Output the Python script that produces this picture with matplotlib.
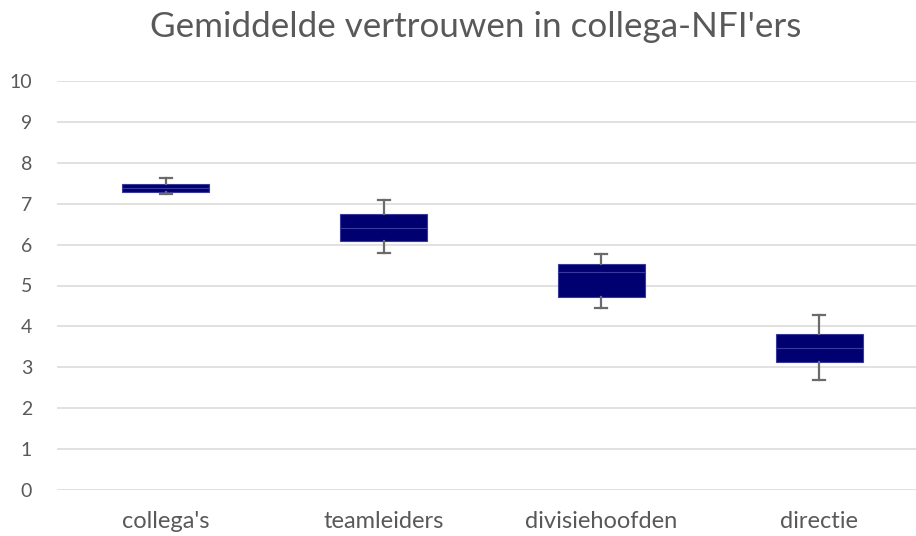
import matplotlib
matplotlib.use("Agg")
import matplotlib.pyplot as plt

categories = ["collega's", "teamleiders", "divisiehoofden", "directie"]
whisker_low = [7.23, 5.80, 4.45, 2.68]
q1 = [7.29, 6.10, 4.72, 3.12]
median = [7.38, 6.41, 5.32, 3.46]
q3 = [7.48, 6.76, 5.53, 3.81]
whisker_high = [7.64, 7.08, 5.77, 4.28]
y_ticks = list(range(0, 11))
title = "Gemiddelde vertrouwen in collega-NFI'ers"

W, H = 916, 536
fig = plt.figure(figsize=(W / 100, H / 100), dpi=100)
plt.rcParams['font.family'] = ['Lato', 'DejaVu Sans']

left_px, right_px = 57, 928
bottom_px, top_px = 490, 81
ax = fig.add_axes([left_px / W, (H - bottom_px) / H,
                   (right_px - left_px) / W, (bottom_px - top_px) / H])

stats = []
for i, c in enumerate(categories):
    stats.append(dict(label=c, whislo=whisker_low[i], q1=q1[i], med=median[i],
                      q3=q3[i], whishi=whisker_high[i], fliers=[]))

positions = [i + 0.5 for i in range(len(categories))]
ax.bxp(stats, positions=positions, widths=0.4, patch_artist=True,
       showfliers=False,
       boxprops=dict(facecolor='#000070', edgecolor='#3a3a9e', linewidth=0.8),
       medianprops=dict(color='#3a3a9e', linewidth=0.8),
       whiskerprops=dict(color='#6b6b6b', linewidth=1.6),
       capprops=dict(color='#6b6b6b', linewidth=1.6),
       capwidths=0.055, zorder=3)

ax.set_xlim(0, len(categories))
ax.set_ylim(0, 10)
ax.set_yticks(y_ticks)
ax.set_xticks(positions)
ax.set_xticklabels(categories)
ax.yaxis.grid(True, color='#d9d9d9', linewidth=1.1)
ax.set_axisbelow(True)
for s in ax.spines.values():
    s.set_visible(False)
ax.tick_params(axis='both', length=0, colors='#595959')
ax.tick_params(axis='y', pad=18, labelsize=14)
ax.tick_params(axis='x', pad=15, labelsize=17)

fig.text(476 / W, 1 - 27 / H, title, ha='center', va='center',
         fontsize=25.2, color='#595959')

fig.savefig("out.png", dpi=100)
